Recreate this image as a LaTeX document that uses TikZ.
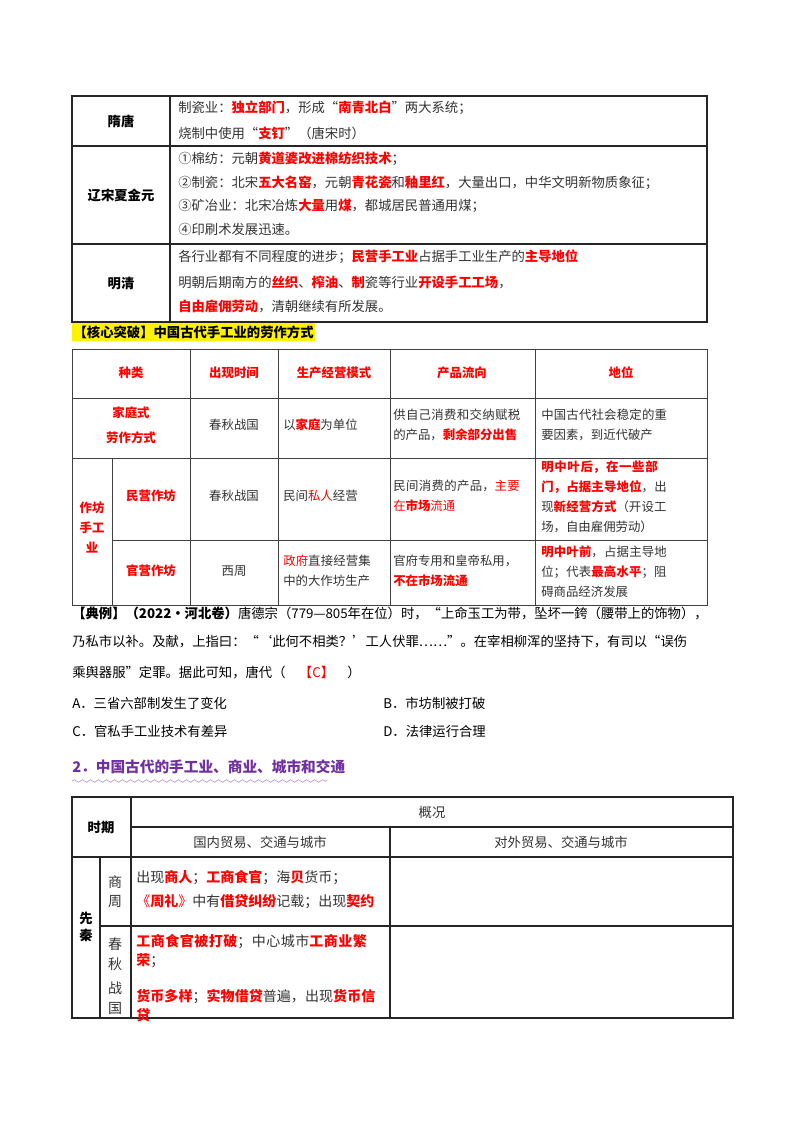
\documentclass[tikz,border=0pt]{standalone}
\usepackage{fontspec}
\setmainfont{Noto Sans CJK SC}
\usetikzlibrary{decorations.pathmorphing}
\XeTeXlinebreaklocale "zh"
\XeTeXlinebreakskip=0pt plus 1pt
\newcommand{\R}[1]{\textcolor{red}{\textbf{#1}}}
\newcommand{\Rn}[1]{\textcolor{red}{#1}}
\definecolor{gt}{HTML}{333333}
\definecolor{pur}{HTML}{7030A0}
\tikzset{
 grid/.style={draw=black!75,line width=0.6pt},
 thick grid/.style={draw=black!85,line width=1.1pt},
 txt/.style={anchor=west,inner sep=0pt,font=\fontsize{10}{13}\selectfont,text=gt},
 ctr/.style={inner sep=0pt,font=\fontsize{10}{13}\selectfont\bfseries,align=center},
 cell/.style={anchor=north west,inner sep=0pt,font=\fontsize{9.3}{15}\selectfont,text=gt,align=left},
 hd/.style={inner sep=0pt,font=\fontsize{9.3}{15}\selectfont\bfseries,text=red,align=center},
}
\begin{document}
\begin{tikzpicture}[x=0.75pt,y=-0.75pt]
\useasboundingbox[fill=white] (0,0) rectangle (800,1132);
% ---------- table 1
\draw[thick grid] (72,96) rectangle (707,322);
\draw[thick grid] (170,96) -- (170,322) (72,146) -- (707,146) (72,244) -- (707,244);
\node[ctr] (t1a) at (121,121) {隋唐};
\node[ctr] (t1b) at (121,195) {辽宋夏金元};
\node[ctr] (t1c) at (121,283) {明清};
\node[txt] (l1) at (178,108) {制瓷业：\R{独立部门}，形成“\R{南青北白}”两大系统；};
\node[txt] (l2) at (178,133) {烧制中使用“\R{支钉}”（唐宋时）};
\node[txt] (l3) at (178,159) {①棉纺：元朝\R{黄道婆改进棉纺织技术}；};
\node[txt] (l4) at (178,183) {②制瓷：北宋\R{五大名窑}，元朝\R{青花瓷}和\R{釉里红}，大量出口，中华文明新物质象征；};
\node[txt] (l5) at (178,206) {③矿冶业：北宋冶炼\R{大量}用\R{煤}，都城居民普通用煤；};
\node[txt] (l6) at (178,229) {④印刷术发展迅速。};
\node[txt] (l7) at (178,257) {各行业都有不同程度的进步；\R{民营手工业}占据手工业生产的\R{主导地位}};
\node[txt] (l8) at (178,282) {明朝后期南方的\R{丝织}、\R{榨油}、\R{制}瓷等行业\R{开设手工工场}，};
\node[txt] (l9) at (178,306) {\R{自由雇佣劳动}，清朝继续有所发展。};
\node[anchor=west,fill=yellow,inner xsep=1pt,inner ysep=2pt,font=\fontsize{10}{12}\selectfont\bfseries] (kx) at (72,332) {【核心突破】中国古代手工业的劳作方式};
% ---------- table 2
\draw[grid] (72,349) rectangle (707,605);
\foreach \x in {190,278,390,535} \draw[grid] (\x,349) -- (\x,605);
\draw[grid] (72,398) -- (707,398) (72,458) -- (707,458) (112,540) -- (707,540) (112,458) -- (112,605);
\node[hd] (h1) at (131,373) {种类};
\node[hd] (h2) at (234,373) {出现时间};
\node[hd] (h3) at (334,373) {生产经营模式};
\node[hd] (h4) at (462,373) {产品流向};
\node[hd] (h5) at (621,373) {地位};
\node[hd] (r1a) at (131,425) {家庭式\\[4pt]劳作方式};
\node[hd] (r2a) at (92,527) {作坊\\手工\\业};
\node[hd] (r2b) at (151,496) {民营作坊};
\node[hd] (r3b) at (151,571) {官营作坊};
\node[cell,anchor=center] (c1) at (234,425) {春秋战国};
\node[cell,anchor=center] (c2) at (234,496) {春秋战国};
\node[cell,anchor=center] (c3) at (234,571) {西周};
\node[cell,anchor=west] (d1) at (283,425) {以\R{家庭}为单位};
\node[cell,anchor=west] (d2) at (283,496) {民间\Rn{私人}经营};
\node[cell,anchor=west,text width=68pt] (d3) at (283,571) {\Rn{政府}直接经营集中的大作坊生产};
\node[cell,anchor=west,text width=100pt] (e1) at (393,425) {供自己消费和交纳赋税的产品，\R{剩余部分出售}};
\node[cell,anchor=west,text width=100pt] (e2) at (393,496) {民间消费的产品，\Rn{主要在}\R{市场}\Rn{流通}};
\node[cell,anchor=west,text width=100pt] (e3) at (393,571) {官府专用和皇帝私用，\\\R{不在市场流通}};
\node[cell,anchor=west,text width=97pt] (f1) at (541,425) {中国古代社会稳定的重要因素，到近代破产};
\node[cell,anchor=west,text width=97pt] (f2) at (541,497) {\R{明中叶后，在一些部门，占据主导地位}，出现\R{新经营方式}（开设工场，自由雇佣劳动）};
\node[cell,anchor=west,text width=97pt] (f3) at (541,572) {\R{明中叶前}，占据主导地位；代表\R{最高水平}；阻碍商品经济发展};
% ---------- example
\node[txt,text=black] (ex1) at (72,613) {\textbf{【典例】（2022·河北卷）}唐德宗（779—805年在位）时，“上命玉工为带，坠坏一銙（腰带上的饰物），};
\node[txt,text=black] (ex2) at (72,642) {乃私市以补。及献，上指曰：“‘此何不相类？’工人伏罪……”。在宰相柳浑的坚持下，有司以“误伤};
\node[txt,text=black] (ex3) at (72,672) {乘舆器服”定罪。据此可知，唐代（\quad\textcolor{red}{【C】}\quad）};
\node[txt,text=black] (oa) at (72,703) {A．三省六部制发生了变化};
\node[txt,text=black] (ob) at (383,703) {B．市坊制被打破};
\node[txt,text=black] (oc) at (72,731) {C．官私手工业技术有差异};
\node[txt,text=black] (od) at (383,731) {D．法律运行合理};
\node[anchor=west,inner sep=0pt,font=\fontsize{11}{13}\selectfont\bfseries,text=pur] (sec) at (72,767) {2．中国古代的手工业、商业、城市和交通};
\draw[pur!60,decorate,decoration={snake,amplitude=1pt,segment length=6pt}] (72,781) -- (327,781);
% ---------- table 3
\draw[thick grid] (72,797) rectangle (733,1018);
\draw[thick grid] (131,797) -- (131,1018) (131,827) -- (733,827) (72,857) -- (733,857) (390,827) -- (390,1018) (100,857) -- (100,1018) (100,926) -- (733,926);
\node[ctr] (p0) at (101,827) {时期};
\node[txt,anchor=center] (p1) at (432,812) {概况};
\node[txt,anchor=center] (p2) at (260,842) {国内贸易、交通与城市};
\node[txt,anchor=center] (p3) at (561,842) {对外贸易、交通与城市};
\node[ctr] (q0) at (86,927) {先\\秦};
\node[txt,anchor=center,align=center,font=\fontsize{10.5}{14}\selectfont] (q1) at (115,892) {商\\周};
\node[txt,anchor=center,align=center,font=\fontsize{10.5}{15}\selectfont] (q2) at (115,976) {春\\秋\\[3pt]战\\国};
\node[txt,font=\fontsize{10.5}{13}\selectfont] (s1) at (136,878) {出现\R{商人}；\R{工商食官}；海\R{贝}货币；};
\node[txt,font=\fontsize{10.5}{13}\selectfont] (s2) at (136,902) {\Rn{《}\R{周礼}\Rn{》}中有\R{借贷纠纷}记载；出现\R{契约}};
\node[txt,anchor=north west,text width=181pt,font=\fontsize{10.5}{14}\selectfont] (s3) at (136,934) {\R{工商食官被打破}；中心城市\R{工商业繁荣}；};
\node[txt,anchor=north west,text width=181pt,font=\fontsize{10.5}{14}\selectfont] (s4) at (136,989) {\R{货币多样}；\R{实物借贷}普遍，出现\R{货币信贷}};
\end{tikzpicture}
\end{document}
